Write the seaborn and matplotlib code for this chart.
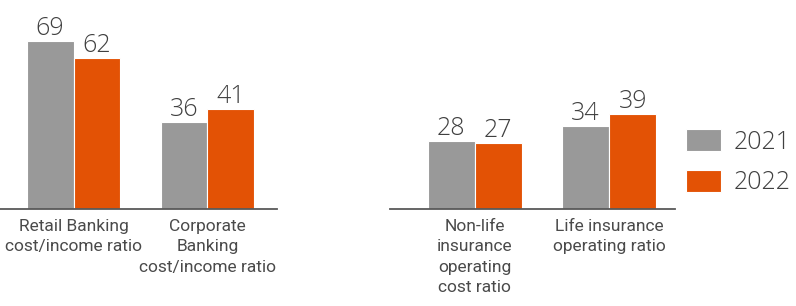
import numpy as np
import pandas as pd
import matplotlib
matplotlib.use("Agg")
import matplotlib.pyplot as plt
import seaborn as sns

# data
years = ["2021", "2022"]
bank_cats = ["Retail Banking\ncost/income ratio", "Corporate\nBanking\ncost/income ratio"]
bank_2021 = [69, 36]
bank_2022 = [62, 41]
ins_cats = ["Non-life\ninsurance\noperating\ncost ratio", "Life insurance\noperating ratio"]
ins_2021 = [28, 34]
ins_2022 = [27, 39]

colors = ["#999999", "#E35205"]
txt = "#404040"

sns.set_style("white")
plt.rcParams["font.family"] = ["Roboto", "DejaVu Sans"]


def long_df(cats, a, b):
    return pd.DataFrame({
        "cat": cats * 2,
        "year": [years[0]] * len(cats) + [years[1]] * len(cats),
        "value": a + b,
    })


fig = plt.figure(figsize=(7.96, 3.06), dpi=100)
ax1 = fig.add_axes([0.0, 0.317, 0.348, 0.683])
ax2 = fig.add_axes([0.49, 0.317, 0.358, 0.683])

for ax, df, xlim in [(ax1, long_df(bank_cats, bank_2021, bank_2022), (-0.55, 1.52)),
                     (ax2, long_df(ins_cats, ins_2021, ins_2022), (-0.63, 1.49))]:
    sns.barplot(data=df, x="cat", y="value", hue="year", palette=colors, saturation=1,
                width=0.7, edgecolor="white", linewidth=0.8, ax=ax)
    for c in ax.containers:
        ax.bar_label(c, fmt="%d", padding=0, fontsize=18, color=txt,
                     family=["Open Sans", "DejaVu Sans"], fontweight="light")
    ax.set_ylim(0, 86)
    ax.set_xlim(*xlim)
    ax.set_xlabel("")
    ax.set_ylabel("")
    ax.set_yticks([])
    ax.tick_params(axis="x", length=0, pad=7, labelsize=12.5, labelcolor="#4a4a4a")
    for lab in ax.get_xticklabels():
        lab.set_linespacing(1.45)
    for s in ["top", "right", "left"]:
        ax.spines[s].set_visible(False)
    ax.spines["bottom"].set_color("#595959")
    ax.spines["bottom"].set_linewidth(1.3)
    ax.get_legend().remove()

handles, labels = ax2.get_legend_handles_labels()
leg = fig.legend(handles, labels, loc="center left", bbox_to_anchor=(686 / 796, 0.47),
                 frameon=False, handlelength=1.4, handleheight=1.0,
                 handletextpad=0.5, labelspacing=0.6, borderpad=0, borderaxespad=0,
                 prop={"family": ["Open Sans", "DejaVu Sans"], "size": 18, "weight": "light"})
for t in leg.get_texts():
    t.set_color(txt)

fig.savefig("out.png", dpi=100)
